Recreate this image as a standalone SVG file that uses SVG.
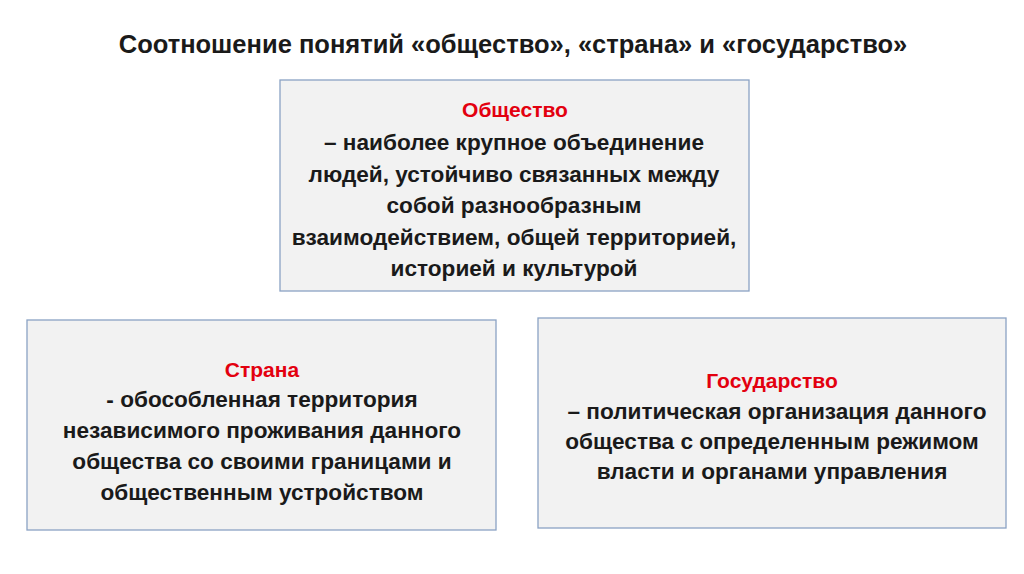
<svg xmlns="http://www.w3.org/2000/svg" width="1024" height="574" viewBox="0 0 1024 574">
<style>
.box{fill:#f2f2f2;stroke:#8aa2c4;stroke-width:1.3}
text{font-family:"Liberation Sans",Arial,sans-serif;font-weight:bold;text-anchor:middle;dominant-baseline:central}
.t{font-size:22.6px;fill:#1a1a1a}
.h{font-size:21px;fill:#e3000f}
.title{font-size:25.5px;fill:#1a1a1a}
</style>
<rect width="1024" height="574" fill="#ffffff"/>
<g id="title"><text class="title" x="513" y="44">Соотношение понятий «общество», «страна» и «государство»</text></g>
<g id="obshchestvo">
<rect class="box" x="280" y="80" width="469" height="211"/>
<text class="h" x="515" y="109">Общество</text>
<text class="t" x="514" y="142">– наиболее крупное объединение</text>
<text class="t" x="514" y="174">людей, устойчиво связанных между</text>
<text class="t" x="514" y="205">собой разнообразным</text>
<text class="t" x="514" y="237">взаимодействием, общей территорией,</text>
<text class="t" x="514" y="268">историей и культурой</text>
</g>
<g id="strana">
<rect class="box" x="27" y="320" width="469" height="210"/>
<text class="h" x="262" y="369">Страна</text>
<text class="t" x="262" y="399">- обособленная территория</text>
<text class="t" x="262" y="430">независимого проживания данного</text>
<text class="t" x="262" y="461">общества со своими границами и</text>
<text class="t" x="262" y="492">общественным устройством</text>
</g>
<g id="gosudarstvo">
<rect class="box" x="538" y="318" width="468" height="210"/>
<text class="h" x="772" y="380">Государство</text>
<text class="t" x="777" y="411">– политическая организация данного</text>
<text class="t" x="772" y="441">общества с определенным режимом</text>
<text class="t" x="772" y="471">власти и органами управления</text>
</g>
<g id="connectors"></g>
</svg>
